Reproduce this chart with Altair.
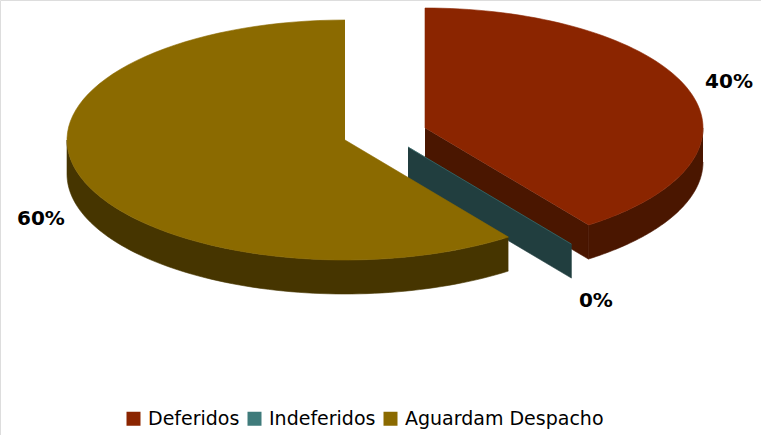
import altair as alt
import pandas as pd

# ---- data ----
categories = ["Deferidos", "Indeferidos", "Aguardam Despacho"]
values = [40, 0, 60]
label_texts = ["40%", "0%", "60%"]

# ---- styles ----
top_colors = ["#8B2500", "#3F7B7B", "#8B6A00"]
side_colors = ["#4A1600", "#213E3F", "#463500"]

W, H = 761, 435
CX, CY = 345, 140          # pie centre (px)
RX, RY = 278, 120          # ellipse radii (px)
THICK = 34                 # pie thickness (px)
explode = {"Deferidos": (80, -12), "Indeferidos": (63, 7), "Aguardam Despacho": (0, 0)}
label_k = 1.15
label_drop = {"Deferidos": -3, "Indeferidos": 42, "Aguardam Despacho": 36}
N = 80

df = pd.DataFrame({"category": categories, "value": values,
                   "ord": list(range(len(categories))), "label": label_texts})

xs = alt.Scale(domain=[0, W], nice=False, zero=False)
ys = alt.Scale(domain=[0, H], nice=False, zero=False, reverse=True)


def base(cat):
    return (alt.Chart(df)
            .transform_joinaggregate(total="sum(value)")
            .transform_window(cum="sum(value)", sort=[alt.SortField("ord")], frame=[None, 0])
            .transform_calculate(a1="2*PI*datum.cum/datum.total")
            .transform_calculate(a0="2*PI*(datum.cum-datum.value)/datum.total")
            .transform_filter(alt.datum.category == cat))


def enc(**kw):
    return dict(x=alt.X("x:Q", scale=xs, axis=None),
                y=alt.Y("y:Q", scale=ys, axis=None),
                order=alt.Order("i:Q"), **kw)


layers = []
for k, cat in enumerate(categories):
    ex, ey = explode[cat]
    ox, oy = CX + ex, CY + ey
    side = side_colors[k]
    top = top_colors[k]
    b = base(cat)

    # radial walls (start edge visible if sin(a0)<0, end edge visible if sin(a1)>0)
    for edge, cond in (("a0", "sin(datum.a0) < -1e-6"), ("a1", "sin(datum.a1) > 1e-6")):
        wall = (b.transform_filter(cond)
                .transform_calculate(pts="sequence(0,4)")
                .transform_flatten(["pts"], as_=["i"])
                .transform_calculate(r="(datum.i==1||datum.i==2)?1:0")
                .transform_calculate(dz=f"datum.i>=2?{THICK}:0")
                .transform_calculate(x=f"{ox}+{RX}*datum.r*sin(datum.{edge})")
                .transform_calculate(y=f"{oy}-{RY}*datum.r*cos(datum.{edge})+datum.dz")
                .mark_line(filled=True, stroke=side, strokeWidth=0.6)
                .encode(**enc(color=alt.value(side))))
        layers.append(wall)

    # outer (front) wall
    outer = (b.transform_calculate(b0="max(datum.a0, PI/2)")
             .transform_calculate(b1="min(datum.a1, 3*PI/2)")
             .transform_filter("datum.b1 > datum.b0")
             .transform_calculate(pts=f"sequence(0,{2 * N + 2})")
             .transform_flatten(["pts"], as_=["i"])
             .transform_calculate(a=f"datum.i<={N}?datum.b0+(datum.b1-datum.b0)*datum.i/{N}:"
                                    f"datum.b1-(datum.b1-datum.b0)*(datum.i-{N + 1})/{N}")
             .transform_calculate(dz=f"datum.i<={N}?0:{THICK}")
             .transform_calculate(x=f"{ox}+{RX}*sin(datum.a)")
             .transform_calculate(y=f"{oy}-{RY}*cos(datum.a)+datum.dz")
             .mark_line(filled=True, stroke=side, strokeWidth=0.6)
             .encode(**enc(color=alt.value(side))))
    layers.append(outer)

    # top face
    topf = (b.transform_calculate(pts=f"sequence(0,{N + 2})")
            .transform_flatten(["pts"], as_=["i"])
            .transform_calculate(a=f"datum.i==0?0:datum.a0+(datum.a1-datum.a0)*(datum.i-1)/{N}")
            .transform_calculate(r="datum.i==0?0:1")
            .transform_calculate(x=f"{ox}+{RX}*datum.r*sin(datum.a)")
            .transform_calculate(y=f"{oy}-{RY}*datum.r*cos(datum.a)")
            .mark_line(filled=True, stroke=top, strokeWidth=0.6)
            .encode(**enc(color=alt.Color(
                "category:N",
                scale=alt.Scale(domain=categories, range=top_colors),
                legend=alt.Legend(orient="none", legendX=124, legendY=409,
                                  direction="horizontal", title=None,
                                  symbolType="square", symbolSize=196,
                                  symbolStrokeWidth=0, labelFont="DejaVu Sans",
                                  labelFontSize=19, labelColor="#000000",
                                  labelLimit=0, labelOffset=5, columnPadding=5,
                                  padding=0)))))
    layers.append(topf)

    # label
    lab = (b.transform_calculate(mid="(datum.a0+datum.a1)/2")
           .transform_calculate(x=f"{ox}+{label_k * RX}*sin(datum.mid)")
           .transform_calculate(y=f"{oy}-{label_k * RY}*cos(datum.mid)+{label_drop[cat]}")
           .mark_text(font="DejaVu Sans", fontWeight="bold", fontSize=20,
                      align="center", baseline="middle", color="#000000")
           .encode(x=alt.X("x:Q", scale=xs, axis=None),
                   y=alt.Y("y:Q", scale=ys, axis=None),
                   text="label:N"))
    layers.append(lab)

chart = (alt.layer(*layers)
         .properties(width=W, height=H, autosize=alt.AutoSizeParams(type="none"), padding=0)
         .configure_view(stroke=None)
         .configure(background="white"))

chart.save("out.html", embed_options={"renderer": "svg", "actions": False})
